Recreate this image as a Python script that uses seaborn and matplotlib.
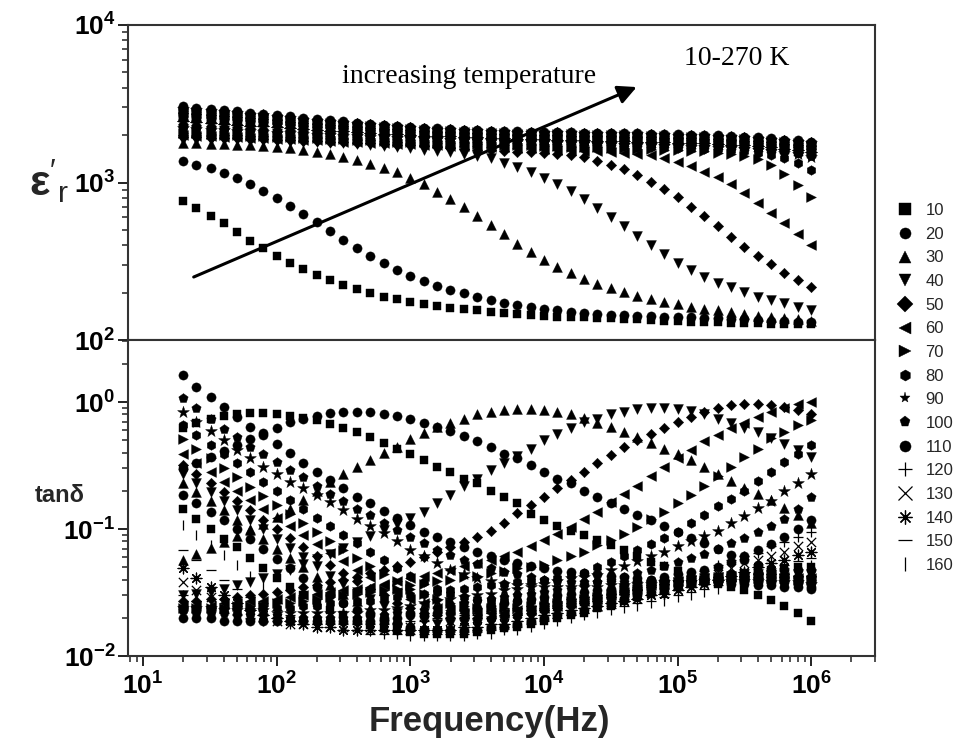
import numpy as np
import pandas as pd
import matplotlib
matplotlib.use("Agg")
import matplotlib.pyplot as plt
import seaborn as sns
from matplotlib import font_manager
from matplotlib.lines import Line2D
from matplotlib.ticker import LogLocator, FuncFormatter, NullFormatter

# ---------------- data ----------------
FREQ = [20, 25, 32, 40, 50, 63, 79, 100, 126, 158, 200, 251, 316, 398, 501, 631, 794, 1e3,
        1259, 1585, 1995, 2512, 3162, 3981, 5012, 6310, 7943, 1e4, 12589, 15849, 19953, 25119,
        31623, 39811, 50119, 63096, 79433, 1e5, 125893, 158489, 199526, 251189, 316228, 398107,
        501187, 630957, 794328, 1e6]

TEMPS = [10, 20, 30, 40, 50, 60, 70, 80, 90, 100, 110, 120, 130, 140, 150, 160,
         170, 180, 190, 200, 210, 220, 230, 240, 250, 260, 270]
LEGEND_COUNT = 16

# dielectric constant eps'_r
EPS_010 = [766,686,613,551,483,427,382,343,310,281,259,240,224,210,200,188,181,175,169,164,160,157,154,151,149,147,145,143,141,140,139,138,137,136,135,134,133,132,131,130,130,129,128,128,127,127,126,126]
EPS_020 = [1371,1291,1230,1154,1073,978,887,801,713,631,564,492,431,382,343,307,278,255,237,220,208,198,188,179,172,166,161,157,154,151,149,147,145,144,143,142,141,140,139,138,137,136,135,134,133,132,131,130]
EPS_030 = [1780,1770,1760,1750,1740,1725,1710,1690,1665,1620,1570,1510,1450,1390,1320,1240,1160,1065,975,875,786,695,613,537,469,407,360,322,292,265,243,227,213,201,190,181,174,169,163,158,154,150,146,143,141,138,135,133]
EPS_040 = [1870,1865,1860,1855,1850,1845,1840,1830,1820,1810,1800,1785,1770,1750,1730,1705,1680,1650,1620,1590,1555,1517,1478,1422,1336,1248,1172,1073,978,887,789,692,607,529,459,401,351,310,278,250,231,216,203,188,179,171,163,155]
EPS_050 = [1950,1940,1930,1920,1910,1900,1890,1875,1860,1845,1830,1815,1800,1785,1770,1755,1740,1720,1700,1680,1660,1640,1620,1600,1585,1570,1555,1540,1525,1496,1459,1376,1291,1213,1117,1012,909,805,703,613,529,453,391,341,304,267,240,216]
EPS_060 = [2000,1985,1970,1955,1940,1925,1910,1895,1880,1865,1850,1835,1820,1805,1790,1775,1760,1745,1735,1725,1715,1705,1695,1685,1675,1665,1650,1635,1620,1605,1590,1575,1560,1545,1525,1500,1423,1354,1273,1172,1080,975,853,745,643,551,471,401]
EPS_070 = [2070,2050,2030,2015,2000,1985,1970,1955,1940,1925,1910,1895,1880,1865,1850,1835,1820,1810,1800,1790,1780,1770,1760,1750,1740,1730,1720,1710,1700,1690,1680,1670,1660,1650,1640,1630,1620,1605,1590,1575,1550,1518,1470,1400,1290,1130,960,813]
EPS_080 = [2140,2120,2100,2085,2070,2055,2040,2025,2010,1990,1970,1955,1940,1925,1910,1895,1880,1865,1850,1840,1830,1820,1810,1800,1790,1780,1770,1760,1750,1740,1730,1720,1710,1700,1690,1680,1670,1660,1650,1640,1625,1605,1580,1545,1500,1430,1330,1200]
EPS_090 = [2210,2190,2170,2150,2130,2110,2090,2070,2050,2030,2010,1995,1980,1965,1950,1935,1920,1905,1890,1880,1870,1860,1850,1840,1830,1820,1810,1800,1790,1780,1770,1760,1750,1740,1730,1720,1710,1700,1690,1680,1665,1650,1630,1610,1580,1550,1510,1460]
EPS_100 = [2256,2234,2213,2191,2169,2147,2126,2104,2082,2060,2038,2022,2006,1989,1973,1957,1941,1925,1909,1898,1888,1877,1867,1856,1846,1836,1826,1816,1807,1797,1787,1777,1768,1758,1748,1738,1728,1718,1708,1698,1683,1668,1648,1628,1598,1568,1529,1480]
EPS_110 = [2302,2278,2256,2232,2208,2184,2162,2138,2114,2090,2066,2049,2032,2013,1996,1979,1962,1945,1928,1916,1906,1894,1884,1872,1862,1852,1842,1832,1824,1814,1804,1794,1786,1776,1766,1756,1746,1736,1726,1716,1701,1686,1666,1646,1616,1586,1548,1500]
EPS_120 = [2348,2322,2299,2273,2247,2221,2198,2172,2146,2120,2094,2076,2058,2037,2019,2001,1983,1965,1947,1934,1924,1911,1901,1888,1878,1868,1858,1848,1841,1831,1821,1811,1804,1794,1784,1774,1764,1754,1744,1734,1719,1704,1684,1664,1634,1604,1567,1520]
EPS_130 = [2394,2366,2342,2314,2286,2258,2234,2206,2178,2150,2122,2103,2084,2061,2042,2023,2004,1985,1966,1952,1942,1928,1918,1904,1894,1884,1874,1864,1858,1848,1838,1828,1822,1812,1802,1792,1782,1772,1762,1752,1737,1722,1702,1682,1652,1622,1586,1540]
EPS_140 = [2440,2410,2385,2355,2325,2295,2270,2240,2210,2180,2150,2130,2110,2085,2065,2045,2025,2005,1985,1970,1960,1945,1935,1920,1910,1900,1890,1880,1875,1865,1855,1845,1840,1830,1820,1810,1800,1790,1780,1770,1755,1740,1720,1700,1670,1640,1605,1560]
EPS_150 = [2486,2454,2428,2396,2364,2332,2306,2274,2242,2210,2178,2157,2136,2109,2088,2067,2046,2025,2004,1988,1978,1962,1952,1936,1926,1916,1906,1896,1892,1882,1872,1862,1858,1848,1838,1828,1818,1808,1798,1788,1773,1758,1738,1718,1688,1658,1624,1580]
EPS_160 = [2532,2498,2471,2437,2403,2369,2342,2308,2274,2240,2206,2184,2162,2133,2111,2089,2067,2045,2023,2006,1996,1979,1969,1952,1942,1932,1922,1912,1909,1899,1889,1879,1876,1866,1856,1846,1836,1826,1816,1806,1791,1776,1756,1736,1706,1676,1643,1600]
EPS_170 = [2578,2542,2514,2478,2442,2406,2378,2342,2306,2270,2234,2211,2188,2157,2134,2111,2088,2065,2042,2024,2014,1996,1986,1968,1958,1948,1938,1928,1926,1916,1906,1896,1894,1884,1874,1864,1854,1844,1834,1824,1809,1794,1774,1754,1724,1694,1662,1620]
EPS_180 = [2624,2586,2557,2519,2481,2443,2414,2376,2338,2300,2262,2238,2214,2181,2157,2133,2109,2085,2061,2042,2032,2013,2003,1984,1974,1964,1954,1944,1943,1933,1923,1913,1912,1902,1892,1882,1872,1862,1852,1842,1827,1812,1792,1772,1742,1712,1681,1640]
EPS_190 = [2670,2630,2600,2560,2520,2480,2450,2410,2370,2330,2290,2265,2240,2205,2180,2155,2130,2105,2080,2060,2050,2030,2020,2000,1990,1980,1970,1960,1960,1950,1940,1930,1930,1920,1910,1900,1890,1880,1870,1860,1845,1830,1810,1790,1760,1730,1700,1660]
EPS_200 = [2716,2674,2643,2601,2559,2517,2486,2444,2402,2360,2318,2292,2266,2229,2203,2177,2151,2125,2099,2078,2068,2047,2037,2016,2006,1996,1986,1976,1977,1967,1957,1947,1948,1938,1928,1918,1908,1898,1888,1878,1863,1848,1828,1808,1778,1748,1719,1680]
EPS_210 = [2762,2718,2686,2642,2598,2554,2522,2478,2434,2390,2346,2319,2292,2253,2226,2199,2172,2145,2118,2096,2086,2064,2054,2032,2022,2012,2002,1992,1994,1984,1974,1964,1966,1956,1946,1936,1926,1916,1906,1896,1881,1866,1846,1826,1796,1766,1738,1700]
EPS_220 = [2808,2762,2729,2683,2637,2591,2558,2512,2466,2420,2374,2346,2318,2277,2249,2221,2193,2165,2137,2114,2104,2081,2071,2048,2038,2028,2018,2008,2011,2001,1991,1981,1984,1974,1964,1954,1944,1934,1924,1914,1899,1884,1864,1844,1814,1784,1757,1720]
EPS_230 = [2854,2806,2772,2724,2676,2628,2594,2546,2498,2450,2402,2373,2344,2301,2272,2243,2214,2185,2156,2132,2122,2098,2088,2064,2054,2044,2034,2024,2028,2018,2008,1998,2002,1992,1982,1972,1962,1952,1942,1932,1917,1902,1882,1862,1832,1802,1776,1740]
EPS_240 = [2900,2850,2815,2765,2715,2665,2630,2580,2530,2480,2430,2400,2370,2325,2295,2265,2235,2205,2175,2150,2140,2115,2105,2080,2070,2060,2050,2040,2045,2035,2025,2015,2020,2010,2000,1990,1980,1970,1960,1950,1935,1920,1900,1880,1850,1820,1795,1760]
EPS_250 = [2946,2894,2858,2806,2754,2702,2666,2614,2562,2510,2458,2427,2396,2349,2318,2287,2256,2225,2194,2168,2158,2132,2122,2096,2086,2076,2066,2056,2062,2052,2042,2032,2038,2028,2018,2008,1998,1988,1978,1968,1953,1938,1918,1898,1868,1838,1814,1780]
EPS_260 = [2992,2938,2901,2847,2793,2739,2702,2648,2594,2540,2486,2454,2422,2373,2341,2309,2277,2245,2213,2186,2176,2149,2139,2112,2102,2092,2082,2072,2079,2069,2059,2049,2056,2046,2036,2026,2016,2006,1996,1986,1971,1956,1936,1916,1886,1856,1833,1800]
EPS_270 = [3038,2982,2944,2888,2832,2776,2738,2682,2626,2570,2514,2481,2448,2397,2364,2331,2298,2265,2232,2204,2194,2166,2156,2128,2118,2108,2098,2088,2096,2086,2076,2066,2074,2064,2054,2044,2034,2024,2014,2004,1989,1974,1954,1934,1904,1874,1852,1820]

# loss tangent tan(delta)
TAN_010 = [0.62,0.68,0.73,0.77,0.81,0.82,0.82,0.81,0.78,0.75,0.72,0.67,0.62,0.58,0.53,0.48,0.43,0.39,0.35,0.31,0.28,0.25,0.23,0.20,0.18,0.16,0.131,0.118,0.106,0.096,0.090,0.082,0.075,0.069,0.061,0.055,0.051,0.047,0.043,0.040,0.037,0.035,0.033,0.030,0.0276,0.0248,0.022,0.0189]
TAN_020 = [0.30,0.33,0.37,0.41,0.46,0.51,0.57,0.63,0.70,0.74,0.78,0.82,0.84,0.84,0.83,0.81,0.78,0.73,0.68,0.64,0.59,0.54,0.49,0.44,0.39,0.36,0.32,0.28,0.25,0.23,0.20,0.18,0.161,0.143,0.130,0.118,0.106,0.095,0.085,0.077,0.070,0.063,0.057,0.052,0.047,0.042,0.038,0.034]
TAN_030 = [0.057,0.064,0.071,0.079,0.088,0.098,0.110,0.125,0.145,0.17,0.20,0.235,0.27,0.31,0.35,0.40,0.44,0.51,0.57,0.64,0.69,0.74,0.80,0.84,0.87,0.88,0.88,0.87,0.84,0.80,0.75,0.69,0.64,0.58,0.53,0.48,0.43,0.39,0.35,0.31,0.27,0.24,0.21,0.19,0.17,0.146,0.129,0.111]
TAN_040 = [0.030,0.031,0.032,0.034,0.036,0.038,0.041,0.044,0.048,0.053,0.058,0.064,0.071,0.079,0.088,0.098,0.11,0.123,0.137,0.159,0.185,0.218,0.25,0.29,0.33,0.375,0.43,0.50,0.56,0.62,0.70,0.74,0.80,0.84,0.875,0.89,0.89,0.875,0.85,0.80,0.74,0.69,0.63,0.58,0.52,0.47,0.42,0.37]
TAN_050 = [0.027,0.027,0.028,0.028,0.029,0.030,0.031,0.032,0.033,0.035,0.036,0.038,0.040,0.042,0.045,0.048,0.051,0.055,0.060,0.066,0.072,0.079,0.087,0.097,0.112,0.133,0.155,0.18,0.21,0.245,0.28,0.33,0.38,0.44,0.50,0.56,0.63,0.70,0.76,0.83,0.89,0.94,0.97,0.97,0.95,0.92,0.87,0.81]
TAN_060 = [0.025,0.025,0.025,0.026,0.026,0.027,0.027,0.028,0.029,0.030,0.031,0.032,0.033,0.034,0.035,0.037,0.039,0.041,0.043,0.045,0.048,0.051,0.054,0.057,0.061,0.066,0.073,0.082,0.091,0.104,0.119,0.137,0.164,0.19,0.22,0.26,0.31,0.36,0.42,0.49,0.55,0.62,0.69,0.76,0.83,0.90,0.96,1.0]
TAN_070 = [0.024,0.024,0.024,0.024,0.025,0.025,0.025,0.026,0.026,0.027,0.028,0.029,0.030,0.031,0.032,0.033,0.034,0.036,0.037,0.039,0.040,0.042,0.043,0.045,0.047,0.049,0.050,0.052,0.057,0.061,0.066,0.075,0.082,0.092,0.104,0.12,0.137,0.159,0.185,0.22,0.26,0.31,0.37,0.43,0.52,0.58,0.66,0.72]
TAN_080 = [0.023,0.023,0.023,0.023,0.023,0.023,0.024,0.024,0.024,0.025,0.025,0.026,0.026,0.027,0.027,0.028,0.029,0.030,0.031,0.032,0.033,0.034,0.035,0.036,0.037,0.038,0.039,0.040,0.041,0.043,0.045,0.050,0.055,0.061,0.068,0.076,0.085,0.095,0.111,0.129,0.152,0.171,0.20,0.24,0.28,0.335,0.39,0.46]
TAN_090 = [0.024,0.024,0.024,0.023,0.023,0.023,0.023,0.022,0.022,0.022,0.022,0.022,0.022,0.022,0.023,0.023,0.024,0.025,0.026,0.027,0.028,0.029,0.030,0.031,0.033,0.034,0.036,0.037,0.039,0.041,0.042,0.0434,0.0475,0.051,0.056,0.061,0.066,0.073,0.080,0.088,0.097,0.111,0.127,0.146,0.165,0.20,0.23,0.27]
TAN_100 = [0.023,0.022,0.022,0.022,0.021,0.021,0.021,0.021,0.020,0.020,0.020,0.020,0.020,0.020,0.021,0.021,0.022,0.022,0.023,0.024,0.025,0.026,0.027,0.028,0.029,0.030,0.031,0.032,0.033,0.034,0.036,0.038,0.040,0.042,0.045,0.048,0.051,0.055,0.059,0.064,0.070,0.077,0.085,0.094,0.105,0.12,0.145,0.18]
TAN_110 = [0.020,0.020,0.020,0.019,0.019,0.019,0.019,0.019,0.019,0.019,0.019,0.019,0.019,0.019,0.019,0.020,0.020,0.021,0.021,0.022,0.022,0.023,0.024,0.025,0.026,0.027,0.028,0.029,0.030,0.031,0.032,0.033,0.034,0.036,0.038,0.040,0.042,0.044,0.046,0.048,0.050,0.055,0.061,0.068,0.076,0.086,0.10,0.118]
TAN_120 = [0.030,0.027,0.024,0.022,0.021,0.020,0.019,0.019,0.018,0.018,0.018,0.018,0.018,0.018,0.018,0.018,0.018,0.019,0.019,0.020,0.020,0.021,0.021,0.022,0.023,0.024,0.025,0.026,0.027,0.028,0.029,0.030,0.031,0.032,0.034,0.036,0.038,0.040,0.043,0.047,0.052,0.057,0.061,0.065,0.073,0.079,0.087,0.095]
TAN_130 = [0.038,0.033,0.029,0.026,0.023,0.021,0.020,0.019,0.018,0.018,0.017,0.017,0.017,0.017,0.017,0.017,0.017,0.017,0.018,0.018,0.019,0.019,0.020,0.021,0.021,0.022,0.023,0.024,0.025,0.026,0.027,0.028,0.029,0.030,0.031,0.033,0.034,0.036,0.038,0.041,0.044,0.049,0.054,0.057,0.061,0.066,0.073,0.079]
TAN_140 = [0.049,0.041,0.035,0.030,0.026,0.023,0.021,0.020,0.019,0.018,0.017,0.017,0.016,0.016,0.016,0.016,0.016,0.016,0.016,0.016,0.016,0.017,0.017,0.018,0.018,0.019,0.020,0.021,0.022,0.023,0.024,0.025,0.026,0.027,0.028,0.030,0.031,0.033,0.035,0.037,0.040,0.043,0.046,0.050,0.054,0.057,0.062,0.066]
TAN_150 = [0.068,0.057,0.048,0.040,0.034,0.029,0.026,0.023,0.021,0.019,0.018,0.017,0.016,0.016,0.015,0.015,0.015,0.015,0.015,0.015,0.015,0.015,0.016,0.016,0.017,0.017,0.018,0.019,0.020,0.021,0.022,0.023,0.024,0.025,0.026,0.027,0.029,0.030,0.032,0.034,0.036,0.039,0.042,0.045,0.048,0.052,0.056,0.059]
TAN_160 = [0.107,0.090,0.075,0.062,0.052,0.043,0.036,0.031,0.027,0.023,0.021,0.019,0.018,0.017,0.016,0.015,0.015,0.0145,0.0145,0.0145,0.0145,0.0145,0.015,0.015,0.016,0.016,0.017,0.018,0.019,0.020,0.021,0.022,0.023,0.024,0.025,0.026,0.027,0.029,0.030,0.032,0.034,0.036,0.038,0.041,0.043,0.046,0.049,0.052]
TAN_170 = [0.144,0.12,0.10,0.083,0.072,0.059,0.049,0.041,0.035,0.030,0.026,0.023,0.021,0.019,0.0175,0.0165,0.016,0.0155,0.015,0.015,0.015,0.015,0.0155,0.016,0.0165,0.017,0.018,0.019,0.020,0.021,0.022,0.024,0.025,0.027,0.029,0.031,0.033,0.035,0.037,0.039,0.041,0.043,0.045,0.047,0.048,0.049,0.050,0.050]
TAN_180 = [0.185,0.159,0.137,0.117,0.100,0.084,0.070,0.058,0.049,0.041,0.035,0.030,0.026,0.023,0.021,0.019,0.018,0.017,0.016,0.016,0.016,0.016,0.016,0.017,0.017,0.018,0.019,0.020,0.021,0.022,0.023,0.025,0.026,0.028,0.030,0.032,0.034,0.036,0.038,0.040,0.042,0.044,0.045,0.046,0.047,0.048,0.048,0.048]
TAN_190 = [0.23,0.195,0.165,0.140,0.118,0.100,0.084,0.070,0.059,0.050,0.042,0.036,0.031,0.027,0.024,0.021,0.020,0.018,0.017,0.017,0.017,0.017,0.017,0.018,0.018,0.019,0.020,0.021,0.022,0.023,0.024,0.025,0.027,0.029,0.031,0.033,0.035,0.037,0.039,0.041,0.042,0.043,0.044,0.045,0.046,0.046,0.046,0.046]
TAN_200 = [0.27,0.23,0.195,0.165,0.140,0.118,0.100,0.084,0.071,0.060,0.051,0.043,0.037,0.032,0.028,0.025,0.022,0.020,0.019,0.018,0.018,0.018,0.018,0.019,0.019,0.020,0.021,0.022,0.023,0.024,0.025,0.026,0.028,0.030,0.032,0.034,0.036,0.038,0.040,0.041,0.042,0.043,0.044,0.044,0.045,0.045,0.044,0.044]
TAN_210 = [0.32,0.27,0.23,0.195,0.165,0.140,0.118,0.100,0.085,0.072,0.061,0.052,0.045,0.039,0.034,0.030,0.026,0.024,0.022,0.021,0.020,0.020,0.020,0.020,0.021,0.021,0.022,0.023,0.024,0.025,0.026,0.027,0.029,0.031,0.033,0.035,0.037,0.039,0.040,0.041,0.042,0.043,0.043,0.044,0.044,0.044,0.043,0.043]
TAN_220 = [0.39,0.33,0.28,0.235,0.20,0.170,0.145,0.123,0.105,0.089,0.076,0.065,0.056,0.048,0.042,0.036,0.032,0.028,0.026,0.024,0.023,0.022,0.022,0.022,0.022,0.023,0.023,0.024,0.025,0.026,0.027,0.028,0.030,0.032,0.034,0.036,0.037,0.039,0.040,0.041,0.042,0.042,0.042,0.042,0.042,0.042,0.041,0.041]
TAN_230 = [0.51,0.43,0.36,0.30,0.255,0.215,0.182,0.155,0.132,0.112,0.095,0.081,0.069,0.059,0.051,0.044,0.039,0.034,0.031,0.028,0.026,0.025,0.024,0.024,0.024,0.024,0.025,0.025,0.026,0.027,0.028,0.029,0.031,0.033,0.034,0.036,0.037,0.038,0.039,0.040,0.041,0.041,0.041,0.041,0.041,0.041,0.040,0.040]
TAN_240 = [0.66,0.55,0.46,0.39,0.33,0.28,0.235,0.20,0.170,0.145,0.123,0.105,0.090,0.077,0.066,0.057,0.049,0.043,0.038,0.034,0.031,0.029,0.028,0.027,0.027,0.027,0.027,0.027,0.028,0.028,0.029,0.030,0.032,0.033,0.035,0.036,0.037,0.038,0.039,0.039,0.040,0.040,0.040,0.040,0.040,0.039,0.039,0.038]
TAN_250 = [0.83,0.70,0.59,0.50,0.42,0.36,0.31,0.27,0.236,0.21,0.185,0.164,0.141,0.12,0.105,0.093,0.080,0.069,0.061,0.054,0.048,0.044,0.041,0.039,0.037,0.036,0.035,0.035,0.035,0.035,0.035,0.035,0.036,0.036,0.037,0.037,0.038,0.038,0.038,0.039,0.039,0.039,0.039,0.039,0.038,0.038,0.038,0.037]
TAN_260 = [1.07,0.89,0.73,0.61,0.53,0.445,0.39,0.34,0.29,0.255,0.22,0.19,0.165,0.145,0.128,0.111,0.098,0.087,0.077,0.069,0.062,0.057,0.053,0.049,0.046,0.044,0.042,0.040,0.039,0.038,0.038,0.038,0.038,0.038,0.038,0.038,0.038,0.038,0.038,0.038,0.038,0.038,0.038,0.037,0.037,0.037,0.036,0.036]
TAN_270 = [1.63,1.32,1.09,0.91,0.76,0.64,0.55,0.47,0.40,0.33,0.28,0.245,0.21,0.18,0.159,0.139,0.123,0.108,0.095,0.086,0.079,0.072,0.066,0.061,0.057,0.054,0.051,0.049,0.047,0.046,0.045,0.044,0.043,0.042,0.041,0.040,0.040,0.039,0.039,0.038,0.038,0.037,0.037,0.036,0.036,0.035,0.035,0.035]

EPS_LISTS = [EPS_010, EPS_020, EPS_030, EPS_040, EPS_050, EPS_060, EPS_070, EPS_080, EPS_090,
             EPS_100, EPS_110, EPS_120, EPS_130, EPS_140, EPS_150, EPS_160, EPS_170, EPS_180,
             EPS_190, EPS_200, EPS_210, EPS_220, EPS_230, EPS_240, EPS_250, EPS_260, EPS_270]
TAN_LISTS = [TAN_010, TAN_020, TAN_030, TAN_040, TAN_050, TAN_060, TAN_070, TAN_080, TAN_090,
             TAN_100, TAN_110, TAN_120, TAN_130, TAN_140, TAN_150, TAN_160, TAN_170, TAN_180,
             TAN_190, TAN_200, TAN_210, TAN_220, TAN_230, TAN_240, TAN_250, TAN_260, TAN_270]
for _e, _t in zip(EPS_LISTS, TAN_LISTS):
    assert len(_e) == len(FREQ) and len(_t) == len(FREQ)

rows = []
for T, e_list, t_list in zip(TEMPS, EPS_LISTS, TAN_LISTS):
    for f, ev, tv in zip(FREQ, e_list, t_list):
        rows.append((T, f, ev, tv))
df = pd.DataFrame(rows, columns=["T", "freq", "eps", "tan"])

# ---------------- style ----------------
sns.set_theme(style="ticks")
available = {f.name for f in font_manager.fontManager.ttflist}
SANS = "Liberation Sans Narrow" if "Liberation Sans Narrow" in available else "Liberation Sans"
plt.rcParams["font.family"] = [SANS, "Liberation Sans", "DejaVu Sans"]
plt.rcParams["mathtext.fontset"] = "custom"
plt.rcParams["mathtext.rm"] = SANS
plt.rcParams["mathtext.bf"] = SANS + ":bold"
plt.rcParams["mathtext.it"] = SANS + ":italic"

MARKERS = ["s", "o", "^", "v", "D", "<", ">", "h", "*", "p", "o", "+", "x", (8, 2, 0), "_", "|"]
MSIZE = {"s": 36, "o": 44, "^": 50, "v": 50, "D": 28, "<": 50, ">": 50, "h": 48, "*": 80,
         "p": 50, "+": 60, "x": 45, (8, 2, 0): 60, "_": 60, "|": 60}
LINE_ART = {"+", "x", (8, 2, 0), "_", "|"}

fig = plt.figure(figsize=(9.79, 7.46), dpi=100)
ax1 = fig.add_axes([0.1307, 0.5442, 0.763, 0.4223])
ax2 = fig.add_axes([0.1307, 0.1206, 0.763, 0.4236])

for k, T in enumerate(TEMPS):
    m = MARKERS[k % 16]
    sub = df[df["T"] == T]
    kw = dict(marker=m, s=MSIZE[m], color="black", legend=False)
    if m in LINE_ART:
        kw["linewidth"] = 0.9
    else:
        kw["edgecolor"] = "black"
        kw["linewidth"] = 0.3
    sns.scatterplot(data=sub, x="freq", y="eps", ax=ax1, zorder=3, **kw)
    sns.scatterplot(data=sub, x="freq", y="tan", ax=ax2, zorder=3, **kw)

fmt = FuncFormatter(lambda v, p: r"$\mathbf{10^{%d}}$" % int(round(np.log10(v))))
for ax in (ax1, ax2):
    ax.set_xscale("log")
    ax.set_yscale("log")
    ax.set_xlim(7.7, 3.0e6)
    ax.set_xlabel("")
    ax.set_ylabel("")
    ax.xaxis.set_major_locator(LogLocator(base=10, numticks=12))
    ax.xaxis.set_minor_locator(LogLocator(base=10, subs=np.arange(2, 10), numticks=12))
    ax.yaxis.set_major_locator(LogLocator(base=10, numticks=12))
    ax.yaxis.set_minor_locator(LogLocator(base=10, subs=np.arange(2, 10), numticks=12))
    ax.xaxis.set_major_formatter(fmt)
    ax.yaxis.set_major_formatter(fmt)
    ax.xaxis.set_minor_formatter(NullFormatter())
    ax.yaxis.set_minor_formatter(NullFormatter())
    ax.tick_params(which="major", direction="out", length=7, width=1.4, labelsize=19,
                   color="#222222", labelcolor="black", pad=2)
    ax.tick_params(which="minor", direction="out", length=4, width=1.1, color="#222222")
    for sp in ax.spines.values():
        sp.set_visible(True)
        sp.set_linewidth(1.5)
        sp.set_color("#333333")
    ax.set_facecolor("white")

ax1.set_ylim(100, 10000)
ax2.set_ylim(0.01, 3.08)
ax1.tick_params(labelbottom=False)
ax2.tick_params(axis="x", which="major", pad=5)

# annotations in upper panel
ax1.annotate("", xy=(0.681, 0.803), xytext=(0.088, 0.20), xycoords="axes fraction",
             arrowprops=dict(arrowstyle="-|>", lw=2.2, color="black", mutation_scale=28,
                             shrinkA=0, shrinkB=0))
ax1.text(0.456, 0.835, "increasing temperature", transform=ax1.transAxes, ha="center",
         va="center", fontsize=20, color="black", family=["Liberation Serif", "DejaVu Serif"])
ax1.text(0.815, 0.895, "10-270 K", transform=ax1.transAxes, ha="center", va="center",
         fontsize=20, color="black", family=["Liberation Serif", "DejaVu Serif"])

# axis titles
fig.text(49 / 979, 1 - 181 / 746, r"$\mathbf{ε}'_{\mathrm{r}}$", fontsize=31, ha="center",
         va="center")
fig.text(60 / 979, 1 - 495 / 746, "tanδ", fontsize=17, fontweight="bold", ha="center",
         va="center", family=["Liberation Sans", "DejaVu Sans"])
fig.text(489 / 979, 1 - 721 / 746, "Frequency(Hz)", fontsize=25, fontweight="bold",
         ha="center", va="center")

# legend (first 16 temperatures)
handles = []
labels = []
for k in range(LEGEND_COUNT):
    m = MARKERS[k]
    if m in LINE_ART:
        h = Line2D([], [], linestyle="none", marker=m, color="black", markersize=10,
                   markeredgewidth=0.9)
    else:
        h = Line2D([], [], linestyle="none", marker=m, color="black", markersize=8,
                   markeredgewidth=0.3)
    handles.append(h)
    labels.append(str(TEMPS[k]))
fig.legend(handles, labels, loc="center left", bbox_to_anchor=(897 / 979, 1 - 388 / 746),
           frameon=False, prop=dict(family="Liberation Sans", size=12), labelspacing=0.52,
           handlelength=1.0, handletextpad=0.7, borderaxespad=0, borderpad=0)

fig.savefig("out.png", dpi=100, facecolor="white")
